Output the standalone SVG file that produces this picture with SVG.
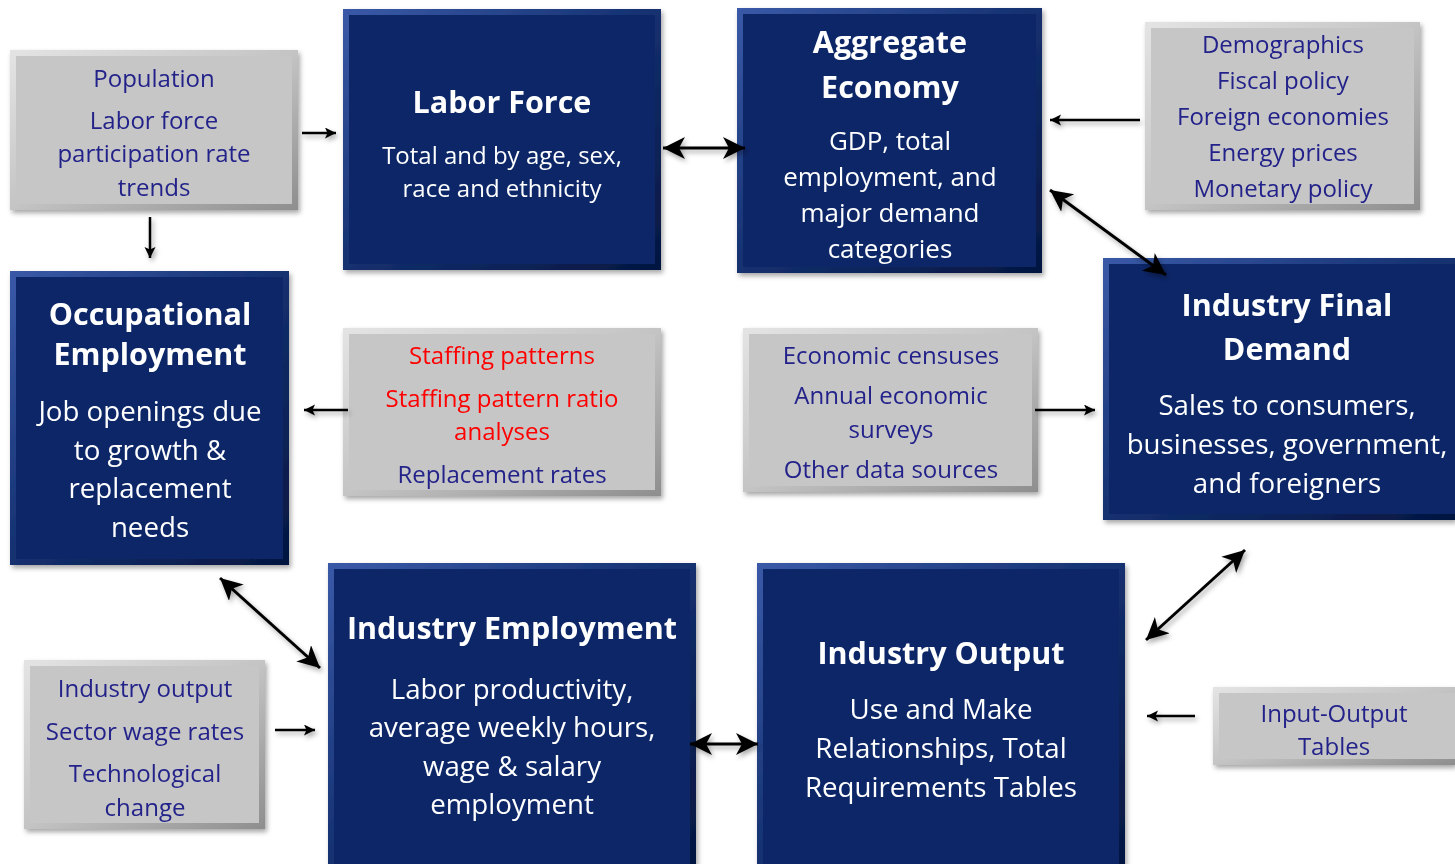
<svg xmlns="http://www.w3.org/2000/svg" width="1455" height="864" viewBox="0 0 1455 864">
  <defs>
    <linearGradient id="bevelBlue" x1="0" y1="0" x2="1" y2="1">
      <stop offset="0" stop-color="#3a5aa8"/>
      <stop offset="0.5" stop-color="#14306f"/>
      <stop offset="1" stop-color="#041640"/>
    </linearGradient>
    <linearGradient id="bevelGray" x1="0" y1="0" x2="1" y2="1">
      <stop offset="0" stop-color="#e4e4e4"/>
      <stop offset="0.5" stop-color="#c4c4c4"/>
      <stop offset="1" stop-color="#8e8e8e"/>
    </linearGradient>
    <filter id="shadow" x="-10%" y="-10%" width="130%" height="130%">
      <feDropShadow dx="2" dy="3" stdDeviation="2.5" flood-color="#000" flood-opacity="0.35"/>
    </filter>
    <marker id="headBig" markerUnits="userSpaceOnUse" markerWidth="24" markerHeight="24" viewBox="0 0 24 24" refX="22" refY="11" orient="auto-start-reverse">
      <path d="M0,0 L22,11 L0,22 L6,11 z" fill="#000"/>
    </marker>
    <marker id="headSmall" markerUnits="userSpaceOnUse" markerWidth="12" markerHeight="12" viewBox="0 0 12 12" refX="11" refY="5.5" orient="auto">
      <path d="M0,0 L11,5.5 L0,11 L2.5,5.5 z" fill="#000"/>
    </marker>
  </defs>
  <style>
    .blue .edge { fill: url(#bevelBlue); }
    .blue .face { fill: #0c2868; }
    .gray .edge { fill: url(#bevelGray); }
    .gray .face { fill: #c6c6c6; }
    .node { filter: url(#shadow); }
    text { font-family: "Open Sans", "Noto Sans", "DejaVu Sans", sans-serif; text-anchor: middle; dominant-baseline: central; }
    .title { fill: #ffffff; font-weight: bold; font-size: 30.5px; }
    .body { fill: #ffffff; font-size: 24px; }
    .body.md { font-size: 26px; }
    .body.lg { font-size: 27.7px; }
    .note { fill: #23238a; font-size: 24px; }
    .red { fill: #ff0000; }
    .conn line { stroke: #000; fill: none; }
    .big { stroke-width: 3; marker-start: url(#headBig); marker-end: url(#headBig); }
    .small { stroke-width: 2.5; marker-end: url(#headSmall); }
  </style>

  <!-- Population inputs -->
  <g id="population" class="node gray">
    <rect class="edge" x="10" y="50" width="288" height="160"/>
    <rect class="face" x="16" y="56" width="276" height="148"/>
    <text class="note" x="154" y="77">Population</text>
    <text class="note" x="154" y="119">Labor force</text>
    <text class="note" x="154" y="152">participation rate</text>
    <text class="note" x="154" y="186">trends</text>
  </g>

  <!-- Labor Force -->
  <g id="labor-force" class="node blue">
    <rect class="edge" x="343" y="9" width="318" height="261"/>
    <rect class="face" x="349" y="15" width="306" height="249"/>
    <text class="title" x="502" y="101">Labor Force</text>
    <text class="body" x="502" y="154">Total and by age, sex,</text>
    <text class="body" x="502" y="187">race and ethnicity</text>
  </g>

  <!-- Aggregate Economy -->
  <g id="aggregate-economy" class="node blue">
    <rect class="edge" x="737" y="8" width="305" height="265"/>
    <rect class="face" x="743" y="14" width="293" height="253"/>
    <text class="title" x="890" y="41">Aggregate</text>
    <text class="title" x="890" y="86">Economy</text>
    <text class="body md" x="890" y="140">GDP, total</text>
    <text class="body md" x="890" y="176">employment, and</text>
    <text class="body md" x="890" y="212">major demand</text>
    <text class="body md" x="890" y="248">categories</text>
  </g>

  <!-- Macro inputs -->
  <g id="macro-inputs" class="node gray">
    <rect class="edge" x="1145" y="22" width="275" height="188"/>
    <rect class="face" x="1151" y="28" width="263" height="176"/>
    <text class="note" x="1283" y="43">Demographics</text>
    <text class="note" x="1283" y="79">Fiscal policy</text>
    <text class="note" x="1283" y="115">Foreign economies</text>
    <text class="note" x="1283" y="151">Energy prices</text>
    <text class="note" x="1283" y="187">Monetary policy</text>
  </g>

  <!-- Occupational Employment -->
  <g id="occupational-employment" class="node blue">
    <rect class="edge" x="10" y="271" width="279" height="294"/>
    <rect class="face" x="16" y="277" width="267" height="282"/>
    <text class="title" x="150" y="313">Occupational</text>
    <text class="title" x="150" y="353">Employment</text>
    <text class="body lg" x="150" y="410">Job openings due</text>
    <text class="body lg" x="150" y="449">to growth &amp;</text>
    <text class="body lg" x="150" y="487">replacement</text>
    <text class="body lg" x="150" y="526">needs</text>
  </g>

  <!-- Staffing inputs -->
  <g id="staffing-inputs" class="node gray">
    <rect class="edge" x="343" y="328" width="318" height="168"/>
    <rect class="face" x="349" y="334" width="306" height="156"/>
    <text class="note red" x="502" y="354">Staffing patterns</text>
    <text class="note red" x="502" y="397">Staffing pattern ratio</text>
    <text class="note red" x="502" y="430">analyses</text>
    <text class="note" x="502" y="473">Replacement rates</text>
  </g>

  <!-- Survey inputs -->
  <g id="survey-inputs" class="node gray">
    <rect class="edge" x="743" y="328" width="295" height="164"/>
    <rect class="face" x="749" y="334" width="283" height="152"/>
    <text class="note" x="891" y="354">Economic censuses</text>
    <text class="note" x="891" y="394">Annual economic</text>
    <text class="note" x="891" y="428">surveys</text>
    <text class="note" x="891" y="468">Other data sources</text>
  </g>

  <!-- Industry Final Demand -->
  <g id="industry-final-demand" class="node blue">
    <rect class="edge" x="1103" y="258" width="352" height="262"/>
    <rect class="face" x="1109" y="264" width="346" height="250"/>
    <text class="title" x="1287" y="304">Industry Final</text>
    <text class="title" x="1287" y="348">Demand</text>
    <text class="body lg" x="1287" y="404">Sales to consumers,</text>
    <text class="body lg" x="1287" y="443">businesses, government,</text>
    <text class="body lg" x="1287" y="482">and foreigners</text>
  </g>

  <!-- Employment inputs -->
  <g id="employment-inputs" class="node gray">
    <rect class="edge" x="24" y="660" width="241" height="169"/>
    <rect class="face" x="30" y="666" width="229" height="157"/>
    <text class="note" x="145" y="687">Industry output</text>
    <text class="note" x="145" y="730">Sector wage rates</text>
    <text class="note" x="145" y="772">Technological</text>
    <text class="note" x="145" y="806">change</text>
  </g>

  <!-- Industry Employment -->
  <g id="industry-employment" class="node blue">
    <rect class="edge" x="328" y="563" width="368" height="306"/>
    <rect class="face" x="334" y="569" width="356" height="300"/>
    <text class="title" x="512" y="627">Industry Employment</text>
    <text class="body lg" x="512" y="688">Labor productivity,</text>
    <text class="body lg" x="512" y="726">average weekly hours,</text>
    <text class="body lg" x="512" y="765">wage &amp; salary</text>
    <text class="body lg" x="512" y="803">employment</text>
  </g>

  <!-- Industry Output -->
  <g id="industry-output" class="node blue">
    <rect class="edge" x="757" y="563" width="368" height="306"/>
    <rect class="face" x="763" y="569" width="356" height="300"/>
    <text class="title" x="941" y="652">Industry Output</text>
    <text class="body lg" x="941" y="708">Use and Make</text>
    <text class="body lg" x="941" y="747">Relationships, Total</text>
    <text class="body lg" x="941" y="786">Requirements Tables</text>
  </g>

  <!-- Input-Output tables -->
  <g id="io-tables" class="node gray">
    <rect class="edge" x="1213" y="687" width="242" height="78"/>
    <rect class="face" x="1219" y="693" width="236" height="66"/>
    <text class="note" x="1334" y="712">Input-Output</text>
    <text class="note" x="1334" y="745">Tables</text>
  </g>

  <!-- Connectors -->
  <g id="connectors" class="conn" filter="url(#shadow)">
    <line class="small" x1="302" y1="133" x2="336" y2="133"/>
    <line class="small" x1="150" y1="217" x2="150" y2="258"/>
    <line class="big" x1="663" y1="148" x2="745" y2="148"/>
    <line class="small" x1="1140" y1="120" x2="1050" y2="120"/>
    <line class="big" x1="1050" y1="190" x2="1166" y2="275"/>
    <line class="small" x1="348" y1="410" x2="304" y2="410"/>
    <line class="small" x1="1035" y1="410" x2="1095" y2="410"/>
    <line class="big" x1="220" y1="578" x2="320" y2="668"/>
    <line class="small" x1="275" y1="730" x2="315" y2="730"/>
    <line class="big" x1="690" y1="744" x2="758" y2="744"/>
    <line class="big" x1="1146" y1="640" x2="1245" y2="550"/>
    <line class="small" x1="1195" y1="716" x2="1147" y2="716"/>
  </g>
</svg>
